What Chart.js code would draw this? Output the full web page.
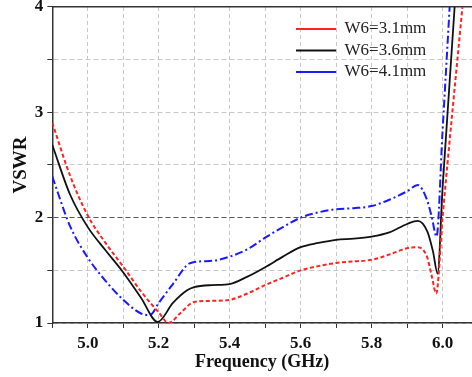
<!DOCTYPE html>
<html>
<head>
<meta charset="utf-8">
<script src="https://cdn.jsdelivr.net/npm/chart.js@4"></script>
<style>
  html, body { margin: 0; padding: 0; background: #fff; }
  #wrap { width: 472px; height: 377px; position: relative; }
</style>
</head>
<body>
<div id="wrap"><canvas id="myChart"></canvas></div>
<script>
// series values
const seriesLabels = ['W6=3.1mm', 'W6=3.6mm', 'W6=4.1mm'];

const freqRed = [4.9, 4.95, 5.0, 5.05, 5.1, 5.15, 5.2, 5.228, 5.26, 5.3, 5.35, 5.4, 5.45, 5.5, 5.55, 5.6, 5.65, 5.7, 5.75, 5.8, 5.85, 5.9, 5.93, 5.956, 5.97, 5.982, 6.0, 6.056, 6.07];
const vswrRed = [2.9, 2.4, 2.02, 1.76, 1.535, 1.3, 1.1, 1.0, 1.09, 1.2, 1.21, 1.22, 1.28, 1.36, 1.43, 1.5, 1.54, 1.57, 1.585, 1.6, 1.65, 1.71, 1.72, 1.63, 1.44, 1.28, 2.0, 4.0, 4.5];

const freqBlack = [4.9, 4.95, 5.0, 5.05, 5.1, 5.15, 5.197, 5.24, 5.28, 5.3, 5.35, 5.4, 5.45, 5.5, 5.55, 5.6, 5.65, 5.7, 5.75, 5.8, 5.85, 5.9, 5.93, 5.957, 5.973, 5.986, 6.0, 6.034, 6.05];
const vswrBlack = [2.69, 2.22, 1.91, 1.69, 1.48, 1.24, 1.01, 1.19, 1.31, 1.34, 1.36, 1.37, 1.44, 1.53, 1.63, 1.72, 1.76, 1.79, 1.8, 1.82, 1.86, 1.94, 1.97, 1.87, 1.68, 1.47, 2.28, 4.0, 4.6];

const freqBlue = [4.9, 4.95, 5.0, 5.05, 5.1, 5.15, 5.175, 5.2, 5.24, 5.29, 5.35, 5.4, 5.45, 5.5, 5.55, 5.6, 5.65, 5.7, 5.75, 5.8, 5.85, 5.9, 5.93, 5.956, 5.97, 5.983, 6.0, 6.02, 6.04];
const vswrBlue = [2.39, 1.92, 1.62, 1.4, 1.22, 1.09, 1.075, 1.19, 1.37, 1.57, 1.59, 1.63, 1.7, 1.81, 1.91, 2.0, 2.05, 2.08, 2.09, 2.11, 2.17, 2.25, 2.31, 2.17, 2.0, 1.82, 2.82, 4.0, 5.2];

// axis ticks
const xTicks = [4.9, 5.0, 5.1, 5.2, 5.3, 5.4, 5.5, 5.6, 5.7, 5.8, 5.9, 6.0];
const yTicks = [1, 1.5, 2, 2.5, 3, 3.5, 4];

const toPoints = (xs, ys) => xs.map((x, i) => ({ x: x, y: ys[i] }));

Chart.defaults.font.family = "'Liberation Serif', 'Times New Roman', serif";
Chart.defaults.color = '#111';

// put the legend in the upper right corner of the plot area
const legendPlacer = {
  id: 'legendPlacer',
  afterLayout(chart) {
    const lg = chart.legend, area = chart.chartArea;
    lg.left = area.right - 180.5;
    lg.right = area.right;
    lg.top = area.top + 9;
    lg.bottom = area.bottom;
  }
};

const ctx = document.getElementById('myChart').getContext('2d');
new Chart(ctx, {
  type: 'line',
  data: {
    datasets: [
      {
        label: seriesLabels[0],
        data: toPoints(freqRed, vswrRed),
        borderColor: '#ff2222',
        backgroundColor: '#ff2222',
        borderWidth: 2,
        borderDash: [4, 2.5]
      },
      {
        label: seriesLabels[1],
        data: toPoints(freqBlack, vswrBlack),
        borderColor: '#111',
        backgroundColor: '#111',
        borderWidth: 1.8
      },
      {
        label: seriesLabels[2],
        data: toPoints(freqBlue, vswrBlue),
        borderColor: '#1a1aff',
        backgroundColor: '#1a1aff',
        borderWidth: 2,
        borderDash: [8, 3, 2, 3]
      }
    ]
  },
  options: {
    responsive: true,
    maintainAspectRatio: false,
    animation: false,
    events: [],
    layout: { padding: { left: 2, right: 0, top: 0, bottom: 1 } },
    elements: {
      point: { radius: 0 },
      line: { cubicInterpolationMode: 'monotone' }
    },
    plugins: {
      tooltip: { enabled: false },
      legend: {
        position: 'chartArea',
        align: 'start',
        labels: {
          usePointStyle: true,
          pointStyle: 'line',
          pointStyleWidth: 40,
          padding: 4.5,
          color: '#222',
          font: { size: 17 }
        }
      }
    },
    scales: {
      x: {
        type: 'linear',
        min: 4.9,
        max: 6.083,
        afterBuildTicks: (scale) => { scale.ticks = xTicks.map(v => ({ value: v })); },
        ticks: {
          autoSkip: false,
          maxRotation: 0,
          padding: 7.5,
          color: '#111',
          font: { size: 17, weight: 'bold', lineHeight: 1.0 },
          callback: (v) => (Math.round(v * 10) % 2 === 0 ? Number(v).toFixed(1) : '')
        },
        grid: {
          color: '#c8c8c8',
          lineWidth: 1,
          tickColor: '#333',
          tickLength: 5
        },
        border: { display: true, color: '#333', width: 1.5, dash: [4, 3] },
        title: {
          display: true,
          text: 'Frequency (GHz)',
          color: '#111',
          font: { size: 18, weight: 'bold' },
          padding: { top: -8.1, bottom: 2.5 }
        }
      },
      x2: {
        type: 'linear',
        position: 'top',
        display: true,
        min: 4.9,
        max: 6.083,
        ticks: { display: false },
        grid: { display: false, drawTicks: false },
        border: { display: true, color: '#333', width: 1.5 }
      },
      y: {
        type: 'linear',
        min: 1,
        max: 4,
        afterBuildTicks: (scale) => { scale.ticks = yTicks.map(v => ({ value: v })); },
        ticks: {
          padding: 4,
          color: '#111',
          font: { size: 17, weight: 'bold', lineHeight: 0.35 },
          callback: (v) => (Number.isInteger(v) ? String(v) : '')
        },
        grid: {
          color: (c) => (c.tick && c.tick.value === 2 ? '#555' : '#c8c8c8'),
          lineWidth: 1,
          tickColor: '#333',
          tickLength: 5
        },
        border: { display: true, color: '#333', width: 1.5, dash: [5, 3] },
        title: {
          display: true,
          text: 'VSWR',
          color: '#111',
          font: { size: 19, weight: 'bold' },
          padding: { top: 8, bottom: -2 }
        }
      }
    }
  },
  plugins: [legendPlacer]
});
</script>
</body>
</html>
